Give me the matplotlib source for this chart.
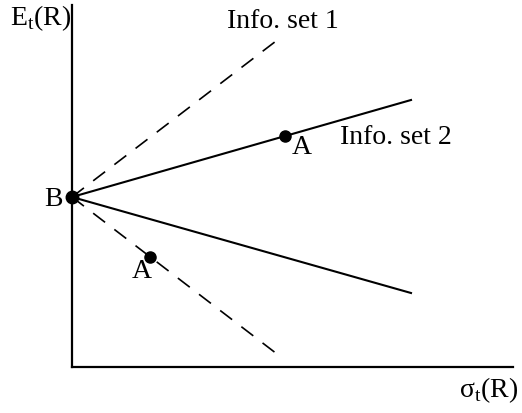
import numpy as np
import matplotlib.pyplot as plt

plt.rcParams['font.family'] = ['Liberation Serif', 'DejaVu Serif']
plt.rcParams['mathtext.fontset'] = 'custom'
plt.rcParams['mathtext.rm'] = 'Liberation Serif'

# point B on the vertical axis
B = (0.0, 17.0)

# end points of the four lines (x, y)
solid_up = (33.9, 26.7)
solid_down = (33.9, 7.4)
dash_up = (20.8, 32.9)
dash_down = (20.5, 1.3)

# the two points A
A_pts_x = [21.3, 7.8]
A_pts_y = [23.1, 11.0]

fig = plt.figure(figsize=(5.22, 4.13), dpi=100)
ax = fig.add_axes([72/522, 46/413, 441/522, 362/413])
ax.set_xlim(0, 44.1)
ax.set_ylim(0, 36.2)

for end in (solid_up, solid_down):
    ax.plot([B[0], end[0]], [B[1], end[1]], color='black', lw=1.5, clip_on=False)
for end in (dash_up, dash_down):
    ax.plot([B[0], end[0]], [B[1], end[1]], color='black', lw=1.2,
            dashes=(9, 7), clip_on=False)

ax.plot([B[0]], [B[1]], 'o', color='black', ms=9, clip_on=False)
ax.plot(A_pts_x, A_pts_y, 'o', color='black', ms=8, clip_on=False)

fs = 20
ax.text(-0.9, 16.7, 'B', fontsize=fs, ha='right', va='center')
ax.text(22.0, 21.9, 'A', fontsize=fs, ha='left', va='center')
ax.text(7.0, 9.5, 'A', fontsize=fs, ha='center', va='center')
ax.text(26.8, 22.9, 'Info. set 2', fontsize=fs, ha='left', va='center')
ax.text(15.5, 34.5, 'Info. set 1', fontsize=fs, ha='left', va='center')
ax.text(-0.1, 34.9, r'E$_\mathrm{t}$(R)', fontsize=fs, ha='right', va='center')
ax.text(44.6, -2.3, r'σ$_\mathrm{t}$(R)', fontsize=fs, ha='right', va='center')

for s in ('top', 'right'):
    ax.spines[s].set_visible(False)
for s in ('left', 'bottom'):
    ax.spines[s].set_linewidth(1.6)
ax.set_xticks([])
ax.set_yticks([])

fig.savefig('out.png', dpi=100)
